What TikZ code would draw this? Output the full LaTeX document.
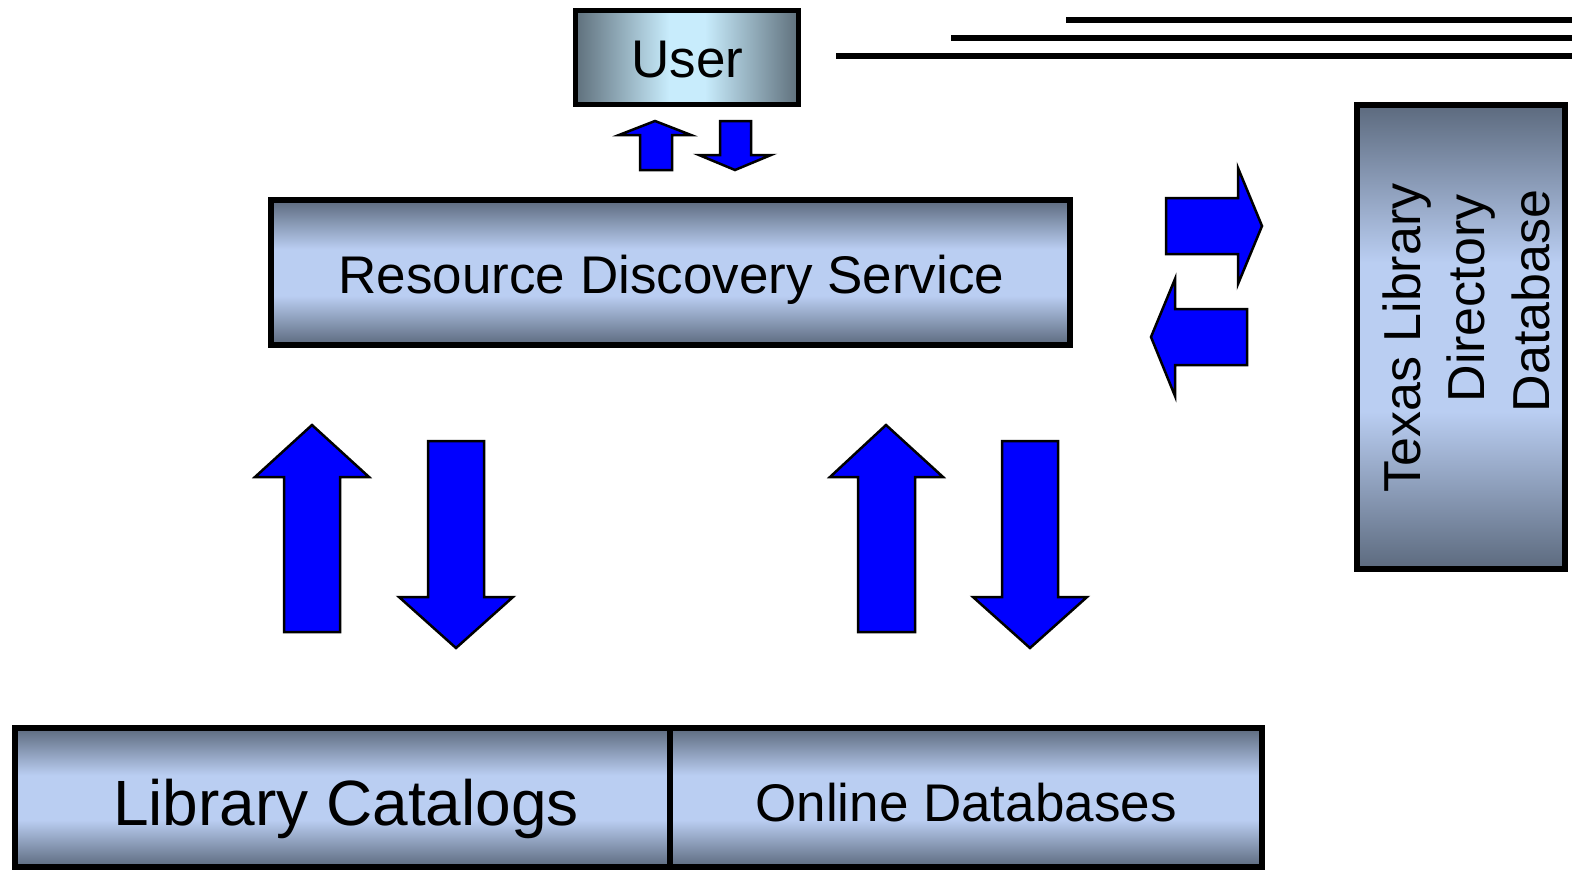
\documentclass[tikz,border=0pt]{standalone}
\usepackage{fontspec}
\setmainfont{Liberation Sans}
\definecolor{dk}{RGB}{92,106,126}
\definecolor{lt}{RGB}{186,206,242}
\definecolor{udk}{RGB}{95,112,124}
\definecolor{ult}{RGB}{200,236,252}
\definecolor{ablue}{RGB}{0,0,255}
\pgfdeclareverticalshading{boxv}{100bp}{color(0bp)=(dk); color(25bp)=(dk); color(42bp)=(lt); color(58bp)=(lt); color(75bp)=(dk); color(100bp)=(dk)}
\pgfdeclarehorizontalshading{boxh}{100bp}{color(0bp)=(udk); color(25bp)=(udk); color(46bp)=(ult); color(54bp)=(ult); color(75bp)=(udk); color(100bp)=(udk)}
\begin{document}
\begin{tikzpicture}[x=1pt,y=-1pt,
  vbox/.style={draw=black, line width=6pt, shading=boxv, inner sep=0pt},
  hbox/.style={draw=black, line width=5pt, shading=boxh, inner sep=0pt},
  lbl/.style={anchor=base, inner sep=0pt, font=\fontsize{53pt}{64pt}\selectfont},
  blockarrow/.style={fill=ablue, draw=black, line width=2.5pt, line join=miter},
  bar/.style={line width=6pt}]
\useasboundingbox (0,0) rectangle (1572,873);

% top-right lines
\draw[bar] (1066,20) -- (1572,20);
\draw[bar] (951,38) -- (1572,38);
\draw[bar] (836,56) -- (1572,56);

% boxes
\node[hbox, minimum width=223pt, minimum height=94pt] (user) at (687,57.5) {};
\node[lbl] (usertext) at (687.5,77) {User};
\node[vbox, minimum width=799pt, minimum height=145pt] (rds) at (670.5,272.5) {};
\node[lbl] (rdstext) at (671.5,293) {Resource Discovery Service};
\node[vbox, minimum width=208pt, minimum height=464pt] (texas) at (1461,337) {};
\node[lbl, rotate=90, font=\fontsize{52pt}{64pt}\selectfont] (tx1) at (1420,338) {Texas Library};
\node[lbl, rotate=90, font=\fontsize{52pt}{64pt}\selectfont] (tx2) at (1484,298.5) {Directory};
\node[lbl, rotate=90, font=\fontsize{52pt}{64pt}\selectfont] (tx3) at (1549,301) {Database};
\node[vbox, minimum width=655pt, minimum height=139pt] (libcat) at (342.5,797.5) {};
\node[lbl, font=\fontsize{64pt}{70pt}\selectfont] (libtext) at (346,825) {Library Catalogs};
\node[vbox, minimum width=592pt, minimum height=139pt] (online) at (966,797.5) {};
\node[lbl] (onltext) at (966,821) {Online Databases};

% small arrows under User
\draw[blockarrow] (655,121) -- (691,135) -- (672,135) -- (672,170) -- (640,170) -- (640,135) -- (619,135) -- cycle;
\draw[blockarrow] (735,170) -- (771,155) -- (751,155) -- (751,121) -- (720,121) -- (720,155) -- (699,155) -- cycle;

% large vertical arrows
\draw[blockarrow] (312,425) -- (369,477) -- (340,477) -- (340,632) -- (284,632) -- (284,477) -- (255,477) -- cycle;
\draw[blockarrow] (456,648) -- (513,597) -- (484,597) -- (484,441) -- (428,441) -- (428,597) -- (399,597) -- cycle;
\draw[blockarrow] (886,425) -- (943,477) -- (915,477) -- (915,632) -- (858,632) -- (858,477) -- (830,477) -- cycle;
\draw[blockarrow] (1030,648) -- (1087,597) -- (1058,597) -- (1058,441) -- (1002,441) -- (1002,597) -- (973,597) -- cycle;

% horizontal arrows
\draw[blockarrow] (1262,226) -- (1238,168) -- (1238,198) -- (1166,198) -- (1166,254) -- (1238,254) -- (1238,284) -- cycle;
\draw[blockarrow] (1151,337) -- (1175,279) -- (1175,309) -- (1247,309) -- (1247,365) -- (1175,365) -- (1175,396) -- cycle;
\end{tikzpicture}
\end{document}
